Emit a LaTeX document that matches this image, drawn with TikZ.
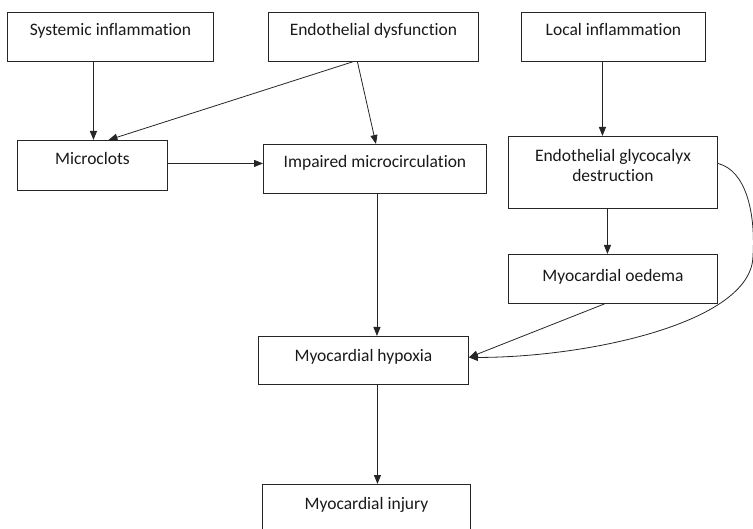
\documentclass[tikz,border=0pt]{standalone}
\usepackage{fontspec}
\setmainfont{Carlito}[Ligatures=NoCommon]
\usetikzlibrary{arrows.meta}
\begin{document}
\begin{tikzpicture}[x=1pt,y=1pt,
  box/.style={draw=black!85, line width=0.9pt, rectangle, anchor=north west, inner sep=0pt},
  lbl/.style={anchor=north, inner sep=0pt, yshift=-11pt, align=center, font=\fontsize{17.5}{20}\selectfont, text=black!90},
  arr/.style={draw=black!85, line width=0.8pt, -{Triangle[length=9pt,width=7pt]}}]
\useasboundingbox (0,0) rectangle (753,-529);
\clip (0,0) rectangle (753,-529);
\node[box, minimum width=206, minimum height=49, label={[lbl]north:Systemic inflammation}] (sys) at (7,-12) {};
\node[box, minimum width=210, minimum height=49, label={[lbl]north:Endothelial dysfunction}] (endo) at (268,-12) {};
\node[box, minimum width=184, minimum height=49, label={[lbl]north:Local inflammation}] (local) at (521,-12) {};
\node[box, minimum width=150, minimum height=50, label={[lbl, yshift=-1pt]north:Microclots}] (micro) at (17,-140) {};
\node[box, minimum width=223, minimum height=49, label={[lbl]north:Impaired microcirculation}] (imp) at (263,-144) {};
\node[box, minimum width=209, minimum height=72, label={[lbl, yshift=-2pt]north:Endothelial glycocalyx\\destruction}] (glyco) at (508,-136) {};
\node[box, minimum width=209, minimum height=49, label={[lbl, yshift=-4pt]north:Myocardial oedema}] (oed) at (508,-254) {};
\node[box, minimum width=210, minimum height=48, label={[lbl, yshift=-2pt]north:Myocardial hypoxia}] (hyp) at (258,-336) {};
\node[box, minimum width=208, minimum height=70, label={[lbl, yshift=-2pt]north:Myocardial injury}] (inj) at (262,-484) {};
% connectors
\draw[arr] ([xshift=-17pt]sys.south) -- ([xshift=-17pt]sys.south |- micro.north);
\draw[arr] ([xshift=-21pt]endo.south) -- ([xshift=16pt]micro.north);
\draw[arr] ([xshift=-16pt]endo.south) -- ([xshift=1pt]imp.north);
\draw[arr] ([yshift=2pt]micro.east) -- ([yshift=2pt]micro.east -| imp.west);
\draw[arr] ([xshift=-11pt]local.south) -- ([xshift=-11pt]local.south |- glyco.north);
\draw[arr] ([xshift=2pt]imp.south) -- ([xshift=2pt]imp.south |- hyp.north);
\draw[arr] ([xshift=-5.5pt]glyco.south) -- ([xshift=-5.5pt]glyco.south |- oed.north);
\draw[arr] ([xshift=-8.5pt]oed.south) -- ([yshift=3pt]hyp.east);
\draw[arr] ([yshift=9pt]glyco.east) .. controls ([xshift=28pt,yshift=2pt]glyco.east) and ([xshift=38pt,yshift=-40pt]glyco.east) .. ([xshift=35pt,yshift=-85pt]glyco.east)
  .. controls ([xshift=32pt,yshift=-150pt]glyco.east) and ([xshift=120pt,yshift=3pt]hyp.east) .. ([yshift=3pt]hyp.east);
\draw[arr] ([xshift=14pt]hyp.south) -- ([xshift=14pt]hyp.south |- inj.north);
\end{tikzpicture}
\end{document}
